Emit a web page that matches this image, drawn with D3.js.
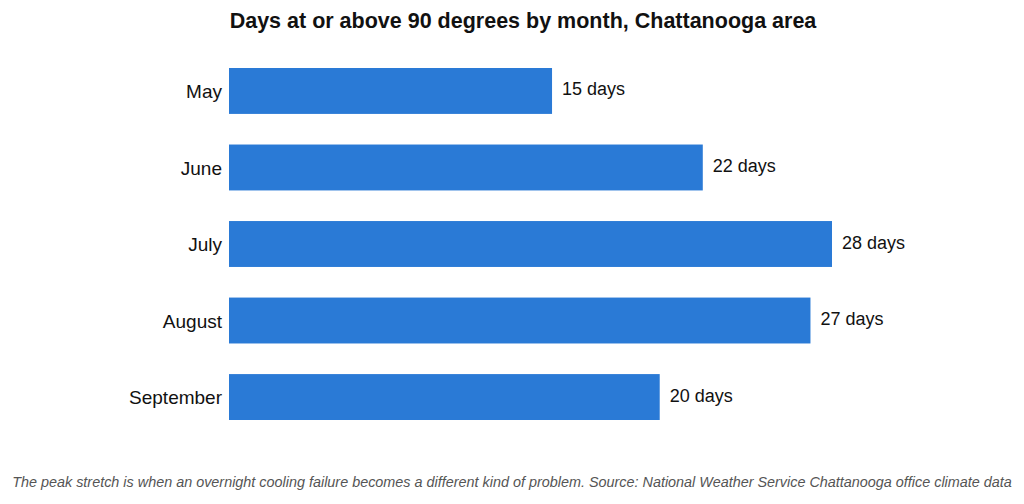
<!DOCTYPE html>
<html>
<head>
<meta charset="utf-8">
<script src="https://cdn.jsdelivr.net/npm/d3@7"></script>
<style>
  body { margin: 0; background: #fff; }
  svg { display: block; font-family: "Liberation Sans", Arial, sans-serif; }
</style>
</head>
<body>
<div id="chart"></div>
<script>
// dados
const meses = ["May", "June", "July", "August", "September"];
const dias = [15, 22, 28, 27, 20];
const rotulos = dias.map(d => `${d} days`);

const largura = 1024, altura = 504;
const corBarra = "#2a7ad6";

const svg = d3.select("#chart").append("svg")
    .attr("width", largura)
    .attr("height", altura);

const x = d3.scaleLinear().domain([0, d3.max(dias)]).range([229, 832]);
const y = d3.scaleBand().domain(meses).range([52.7, 435.3]).paddingInner(0.4).paddingOuter(0.2);

// título
svg.append("text")
    .attr("x", 523).attr("y", 28)
    .attr("text-anchor", "middle")
    .style("font-size", "21.5px").style("font-weight", "bold").style("fill", "#111")
    .text("Days at or above 90 degrees by month, Chattanooga area");

// barras
svg.selectAll(".barra").data(meses).enter().append("rect")
    .attr("class", "barra")
    .attr("x", x(0))
    .attr("y", d => y(d))
    .attr("width", (d, i) => x(dias[i]) - x(0))
    .attr("height", y.bandwidth())
    .attr("fill", corBarra);

// eixo y sem linha, só os nomes
const eixoY = svg.append("g")
    .attr("transform", `translate(${x(0)},0)`)
    .call(d3.axisLeft(y).tickSize(0).tickPadding(7));
eixoY.select(".domain").remove();
eixoY.selectAll("text")
    .style("font-size", "19px")
    .style("font-family", "Liberation Sans, Arial, sans-serif")
    .attr("fill", "#111")
    .attr("dy", "0.38em");

// rótulos de valor
svg.selectAll(".valor").data(meses).enter().append("text")
    .attr("class", "valor")
    .attr("x", (d, i) => x(dias[i]) + 10)
    .attr("y", d => y(d) + y.bandwidth() / 2)
    .attr("dy", "0.25em")
    .style("font-size", "18px").style("fill", "#111")
    .text((d, i) => rotulos[i]);

// legenda de rodapé
svg.append("text")
    .attr("x", 512).attr("y", 487)
    .attr("text-anchor", "middle")
    .style("font-size", "14.4px").style("font-style", "italic").style("fill", "#555")
    .text("The peak stretch is when an overnight cooling failure becomes a different kind of problem. Source: National Weather Service Chattanooga office climate data");
</script>
</body>
</html>
